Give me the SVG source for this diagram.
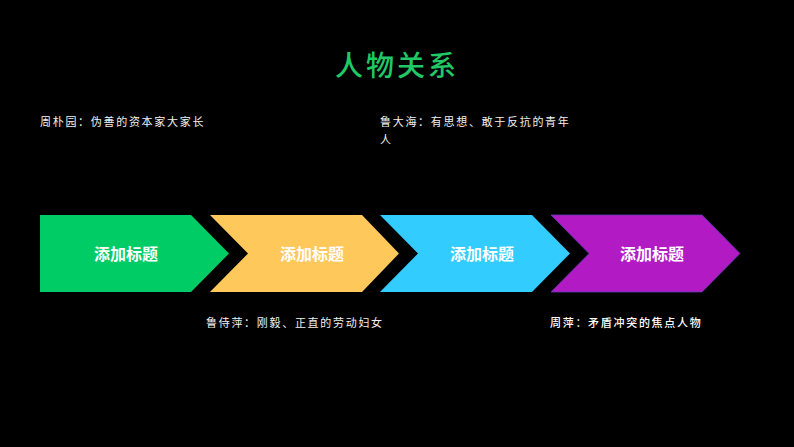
<svg xmlns="http://www.w3.org/2000/svg" width="794" height="447" viewBox="0 0 794 447">
<style>
.bg{fill:#000}
.title{font-family:"Noto Sans CJK SC","Noto Sans",sans-serif;font-size:28px;font-weight:500;fill:#21C866;letter-spacing:3px}
.lbl{font-family:"Noto Sans CJK SC","Noto Sans",sans-serif;font-size:11px;fill:#F2F2F2;letter-spacing:1.7px}
.head{font-family:"Noto Sans CJK SC","Noto Sans",sans-serif;font-size:16px;font-weight:bold;fill:#FFFFFF;text-anchor:middle}
</style>
<rect class="bg" x="0" y="0" width="794" height="447"/>
<text class="title" x="397" y="76" text-anchor="middle">人物关系</text>
<g id="chevrons">
<g id="node1">
<polygon points="40,215 191,215 229,253.5 191,292 40,292" fill="#00CC66"/>
<text class="head" x="126" y="260">添加标题</text>
</g>
<g id="node2">
<polygon points="210,215 362,215 399,253.5 362,292 210,292 248,253.5" fill="#FFC85A"/>
<text class="head" x="312" y="260">添加标题</text>
</g>
<g id="node3">
<polygon points="380,215 532,215 570,253.5 532,292 380,292 418,253.5" fill="#33CCFF"/>
<text class="head" x="482" y="260">添加标题</text>
</g>
<g id="node4">
<polygon points="551,215 702,215 740,253.5 702,292 551,292 589,253.5" fill="#B21BC4" stroke="#5B3AAE" stroke-width="0.8"/>
<text class="head" x="652" y="260">添加标题</text>
</g>
</g>
<g id="labels">
<text class="lbl" x="40" y="126">周朴园：伪善的资本家大家长</text>
<text class="lbl" x="380" y="126">鲁大海：有思想、敢于反抗的青年</text>
<text class="lbl" x="380" y="144">人</text>
<text class="lbl" x="206" y="327">鲁侍萍：刚毅、正直的劳动妇女</text>
<text class="lbl" x="550" y="327" style="font-weight:500;fill:#FFFFFF">周萍：矛盾冲突的焦点人物</text>
</g>
<g id="connectors"/>
</svg>
